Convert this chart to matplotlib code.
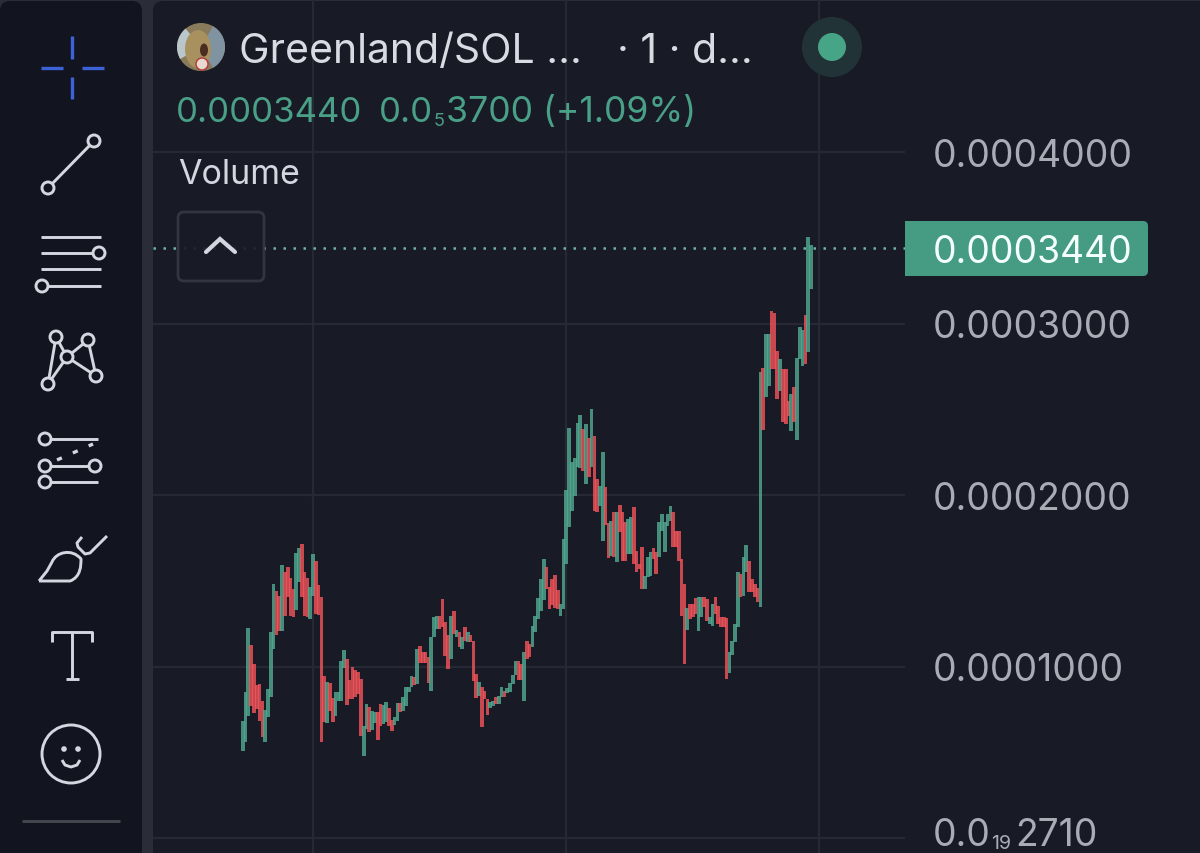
import matplotlib
matplotlib.use('Agg')
import matplotlib.pyplot as plt
from matplotlib.patches import Circle, FancyBboxPatch, Rectangle, PathPatch, Wedge, Ellipse
from matplotlib.path import Path

# price in units of 1e-6
highs = [
 68.4,85,122.3,112.7,101.5,89.2,89.6,80.1,74.8,86.9,119.9,148.1,144.2,140.9,159.2,154.9,157.8,151.4,145.2,166.2,
 168.9,171.3,154.9,151.4,146.2,165.8,161.5,147.5,140.3,94.7,90.8,90.4,81.4,85,85,103,109.8,104.4,92.3,99.5,
 98.2,96.6,92.7,65.1,78.1,76.6,74.3,73.7,73.7,78.1,77.6,79.1,75.6,69,70.4,78.7,78.7,82.4,88.2,88.2,
 94.7,93.7,110.2,112.2,108.7,108.7,105.4,
 117,128.7,129.3,129.6,139.4,125.8,118.4,129.6,132.6,121.5,120.3,117,123.2,119.9,118.4,115,95.6,90.8,87.8,85.5,
 81,79.5,80,82.4,83,87.8,85.9,87.3,90.4,95,103.4,103.4,101.4,108.3,115,113.1,123.8,129.3,139.9,151,
 162.7,158.2,146.2,151,153.4,144.6,136.4,174.4,203.1,238.9,219.5,221.4,242,246.7,238.5,241.4,233.1,250.2,234.2,209.3,
 205.5,225.3,204.9,183.7,185,189.9,189.9,
 194.1,189.9,184,186,186.9,192.8,167.5,159.7,169.4,152.9,163.6,166.9,168.9,166.5,184,188.9,184,188.9,193.7,189.9,
 179.2,179.2,162.6,148.1,133.9,136.4,136.4,139.7,140.3,140.7,140.3,139.3,128.6,136.4,140.3,135.4,128.6,128.6,128,108.2,
 115,124.7,154.9,153.9,163.6,170.8,161.7,151,148.1,145.5,271.9,273.8,293.9,293.9,307.5,306.1,284.1,279.3,273.4,273.4,
 255,258.9,262.8,279.7,298.1,296.2,304.9,350.2,345.8,
]
lows = [
 50.9,55.8,71.3,77.2,72.7,75.2,68.4,58.7,55.8,70.4,82,110.2,118.4,120.9,120.9,129.3,140.3,129.3,128.7,133,
 149.1,140.3,129.3,128.7,127.7,141.3,130.6,130,55.8,67.4,67,74.2,67.8,71.3,80.1,80.1,98.9,77.7,81,81,
 82,84,59.7,48,63.6,62,63,67,57.3,65.1,66.5,67.4,65.5,62.6,65.9,68.4,73.3,74.2,77.2,85,
 87.9,89.2,89.8,101.9,101.9,101.9,90.4,
 85.9,117,121.9,121.9,122.8,106.3,98.5,104.4,119,117,111.2,110.2,115,114.5,114.1,91.7,81.6,83,64.5,81,
 71.9,75.6,76.8,78.1,78.1,82,82.4,84.5,84.9,89.8,95,92.3,92.3,80,104.4,105.3,111.2,119.9,127.7,132.6,
 138.8,145.2,133.5,135.9,133.9,133.5,129.3,133.5,159.8,181.2,190.9,199.6,216.1,215.6,214.2,206.4,210.3,216.1,190.9,189.9,
 193.8,173.4,182.5,163.1,164.6,163.7,161.1,
 178.2,161.7,161.7,165.6,165.6,159.7,155.3,156.8,145.1,145.1,151.9,152.9,162.6,153.9,163.6,179.2,166.9,182.1,185,169.4,
 169.4,161.7,129.6,101.4,121.2,127.6,128.6,130.6,120.8,128.6,134.5,126.7,124.7,123.8,130.6,124.7,122.8,122.8,92.7,96.5,
 106.7,114,122.8,140.3,141.3,154.9,143.2,143.2,140.3,137.8,134.5,238.1,256.9,263.7,273.4,273.4,256,260.8,242.3,241.4,
 246.2,237.5,242.7,232.2,279.3,275,276.4,283.6,320.1,
]
# G rising, R falling
sides = (
 "GGGRRRRRGGGGRRGRRRRGGRRRGGRRRRGRRGGGGRRRRRRGGRGGRRGGRRGGRGGGGRGRRRR"
 "GGGRRRRGRGRGRGRRRGRRRGGRGGRGGGGRRGRRGGGGGRRRRRGGGGGGGGRGRGRRGGRRGRG"
 "RRRGGRRRRGGGRRGGGGGRRRRRGRRRGGRRGGRRRRRGGGGRGGRRRRGRGGRRRGRRRGRGGGRGG"
)
tick_prices = [0, 100, 200, 300, 400]
tick_labels = ['', '0.0001000', '0.0002000', '0.0003000', '0.0004000']
grid_candles = [25, 115, 205]
last_price = 344

BG = '#181a26'
SIDE = '#12141f'
GUTTER = '#2a2c38'
UP = '#52ab92'
DOWN = '#f4555a'
ICON = '#d5d7e0'
TICK = '#a9abb5'
GREEN_TXT = '#4a9f87'
FONT = 'Inter'

fig = plt.figure(figsize=(12, 8.54), dpi=100, facecolor=GUTTER)

# chart panel, pixel box x 153..905
ax = fig.add_axes([153 / 1200, 0, (905 - 153) / 1200, 1], facecolor='none', zorder=2)
n = len(highs)
px = (811 - 242.7) / (n - 1)
ax.set_xlim((153 - 242.7) / px, (905 - 242.7) / px)
ax.set_ylim(-15 / 1.715, 839 / 1.715)
for s in ax.spines.values():
    s.set_visible(False)
ax.set_yticks(tick_prices)
ax.set_yticklabels(tick_labels, family=FONT, fontsize=26.9, color=TICK)
ax.yaxis.tick_right()
ax.tick_params(axis='y', length=0, pad=20)
ax.set_xticks(grid_candles)
ax.set_xticklabels([])
ax.tick_params(axis='x', length=0)
ax.grid(True, color='#262833', lw=1.6)
ax.set_axisbelow(True)

for i in range(n):
    col = UP if sides[i] == 'G' else DOWN
    ax.bar(i, highs[i] - lows[i], bottom=lows[i], width=1.3, color=col, alpha=0.8, lw=0, zorder=3)

ax.axhline(last_price, color='#6fb3a3', lw=1.8, ls=(0, (1, 3)), zorder=2)

# UI layer in pixels
ui = fig.add_axes([0, 0, 1, 1], facecolor='none', zorder=3)
ui.set_xlim(0, 1200)
ui.set_ylim(854, 0)
ui.axis('off')
back = fig.add_axes([0, 0, 1, 1], facecolor='none', zorder=1)
back.set_xlim(0, 1200)
back.set_ylim(854, 0)
back.axis('off')
back.add_patch(FancyBboxPatch((0, 2), 142, 900, boxstyle='round,pad=0,rounding_size=10', fc=SIDE, ec='none'))
back.add_patch(FancyBboxPatch((153, 2), 1100, 900, boxstyle='round,pad=0,rounding_size=10', fc=BG, ec='none'))


def line(xs, ys, lw=2.1, c=ICON, **kw):
    ui.plot(xs, ys, color=c, lw=lw, solid_capstyle=kw.pop('cap', 'butt'), **kw)


def ring(x, y, r=6):
    ui.add_patch(Circle((x, y), r, fc=SIDE, ec=ICON, lw=2.1, zorder=5))


# crosshair
blue = '#3d62d8'
line([72, 72], [37, 60], c=blue, lw=2.4)
line([72, 72], [78, 100], c=blue, lw=2.4)
line([41, 63], [69, 69], c=blue, lw=2.4)
line([82, 104], [69, 69], c=blue, lw=2.4)
# trend line
line([48, 94], [189, 142])
ring(48, 189)
ring(94, 142)
# parallel lines
line([41, 101], [238, 238])
line([41, 99], [254, 254])
ring(99, 254)
line([41, 101], [270, 270])
line([42, 101], [287, 287])
ring(42, 287)
# pattern
pts = {'a': (56, 338), 'b': (88, 341), 'c': (67, 358), 'd': (96, 377), 'e': (48, 385)}
for p, q in ['ac', 'cb', 'bd', 'cd', 'ce', 'ae']:
    line([pts[p][0], pts[q][0]], [pts[p][1], pts[q][1]])
for v in pts.values():
    ring(*v)
# fib
line([45, 98], [440, 440])
ring(45, 440)
line([57, 93], [461, 445], lw=2.4, ls=(0, (1.6, 3.6)))
line([45, 95], [467, 467])
ring(45, 467)
ring(95, 467)
line([45, 98], [483, 483])
ring(45, 483)
# brush
verts = [(39, 582), (47, 572), (52, 563), (56, 553), (72, 549), (81, 560), (81, 566), (81, 578), (70, 582), (60, 582), (39, 582)]
codes = [Path.MOVETO, Path.LINETO, Path.LINETO, Path.CURVE4, Path.CURVE4, Path.CURVE4, Path.CURVE4, Path.CURVE4, Path.CURVE4, Path.LINETO, Path.LINETO]
ui.add_patch(PathPatch(Path(verts, codes), fc='none', ec=ICON, lw=2.1))
line([82, 77, 78, 85, 90, 107], [538, 544, 548, 555, 554, 537])
# text tool
line([52, 52, 92, 92], [643, 633, 633, 643])
line([72, 72], [633, 680])
line([66, 79], [680, 680])
# emoji
ui.add_patch(Circle((71, 755), 29, fc='none', ec=ICON, lw=2.1))
ui.add_patch(Circle((64, 750), 2.8, fc=ICON, ec='none'))
ui.add_patch(Circle((78, 750), 2.8, fc=ICON, ec='none'))
line([62, 65, 71, 77, 80], [761, 766, 768, 766, 761])
line([22, 120], [822, 822], c='#45474f')

# header
ui.add_patch(Circle((201, 48), 24, fc='#8a7a5c', ec='none'))
ui.add_patch(Wedge((201, 48), 24, 300, 60, fc='#7f93a0', ec='none'))
ui.add_patch(Wedge((201, 48), 24, 150, 230, fc='#b9c6cc', ec='none'))
ui.add_patch(Ellipse((198, 50), 26, 38, fc='#a8905f', ec='none'))
ui.add_patch(Ellipse((204, 51), 8, 13, fc='#4a2e22', ec='none'))
ui.add_patch(Circle((202, 65), 6, fc='#e8d8d0', ec='#b03a3a', lw=1))
ui.text(239, 63, 'Greenland/SOL ...', family=FONT, fontsize=29.5, color='#d9dbe3', va='baseline')
ui.text(617, 63, '· 1 · d...', family=FONT, fontsize=29.5, color='#d9dbe3', va='baseline')
ui.add_patch(Circle((832, 48), 30, fc='#223338', ec='none'))
ui.add_patch(Circle((832, 48), 14, fc='#47a587', ec='none'))

ui.text(176, 122, '0.0003440', family=FONT, fontsize=25, color=GREEN_TXT, va='baseline')
ui.text(379, 122, '0.0', family=FONT, fontsize=25, color=GREEN_TXT, va='baseline')
ui.text(434, 126, '5', family=FONT, fontsize=13, color=GREEN_TXT, va='baseline')
ui.text(446, 122, '3700 (+1.09%)', family=FONT, fontsize=25.6, color=GREEN_TXT, va='baseline')
ui.text(178, 184, 'Volume', family=FONT, fontsize=24.5, color='#d5d7e0', va='baseline')

# collapse button
ui.add_patch(FancyBboxPatch((178, 213), 86, 69, boxstyle='round,pad=0,rounding_size=6', fc=BG, ec='#363843', lw=2, alpha=0.9))
line([206, 220, 235], [253, 240, 253], lw=3, cap='round', solid_joinstyle='miter')

# price tag
ui.add_patch(FancyBboxPatch((905, 222), 243, 55, boxstyle='round,pad=0,rounding_size=5', fc='#469b83', ec='none', zorder=4))
ui.add_patch(Rectangle((905, 222), 12, 55, fc='#469b83', ec='none', zorder=4))
ui.text(933, 263, '0.0003440', family=FONT, fontsize=26.9, color='#f4fffb', va='baseline', zorder=6)

# bottom tick with subscript
ui.text(933, 846, '0.0', family=FONT, fontsize=26.9, color=TICK, va='baseline')
ui.text(991, 849, '19', family=FONT, fontsize=14, color=TICK, va='baseline')
ui.text(1015, 846, '2710', family=FONT, fontsize=26.9, color=TICK, va='baseline')

fig.savefig('out.png', dpi=100, facecolor=GUTTER)
